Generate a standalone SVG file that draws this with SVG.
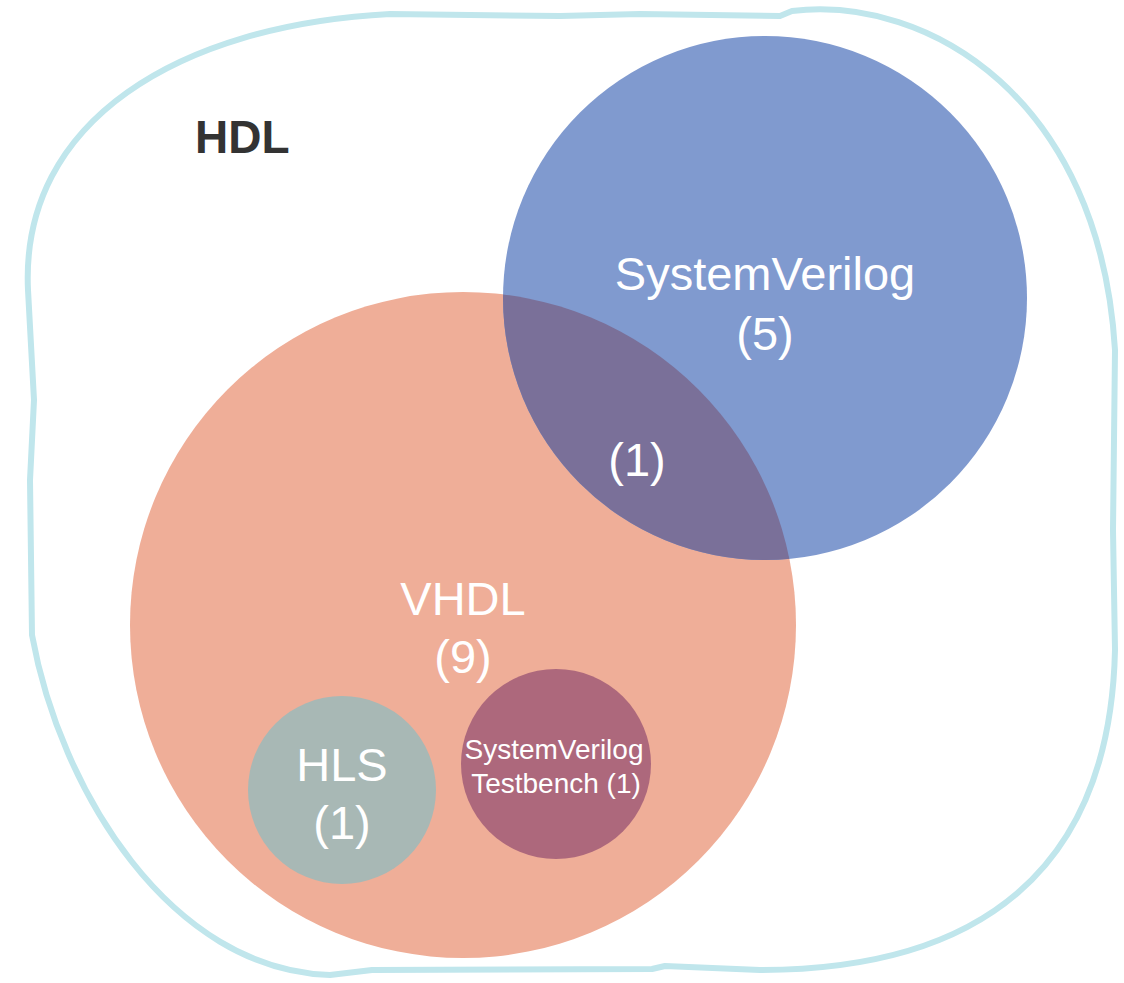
<svg xmlns="http://www.w3.org/2000/svg" width="1124" height="983" viewBox="0 0 1124 983">
  <style>
    .lbl { font-family: "Liberation Sans", Arial, sans-serif; fill: #ffffff; text-anchor: middle; }
    .big { font-size: 47px; }
    .small { font-size: 28px; }
    .title { font-family: "Liberation Sans", Arial, sans-serif; font-weight: bold; font-size: 46px; fill: #333333; }
  </style>
  <defs>
    <clipPath id="clipSV">
      <circle cx="765" cy="298" r="262"/>
    </clipPath>
  </defs>
  <rect width="1124" height="983" fill="#ffffff"/>
  <g id="hdl">
    <path d="M 390,14 L 560,16 L 640,14 L 780,16 L 792,11 C 930,-5 1100,100 1115,350 L 1113,530 L 1115,650 C 1110,870 980,970 760,970 L 665,966 L 652,969 L 372,970 L 330,975 C 170,970 60,790 32,635 L 30,480 L 34,400 L 28,290 C 20,120 180,25 390,14 Z" fill="none" stroke="#c0e6ec" stroke-width="6" stroke-linejoin="round"/>
    <text class="title" x="195" y="153">HDL</text>
  </g>
  <g id="vhdl">
    <circle cx="463" cy="625" r="333" fill="#efae98"/>
  </g>
  <g id="systemverilog">
    <circle cx="765" cy="298" r="262" fill="#809acf"/>
  </g>
  <g id="intersection">
    <circle cx="463" cy="625" r="333" fill="#7a7099" clip-path="url(#clipSV)"/>
    <text class="lbl big" x="637" y="476">(1)</text>
  </g>
  <g id="labels-main">
    <text class="lbl big" x="765" y="290">SystemVerilog</text>
    <text class="lbl big" x="765" y="350">(5)</text>
    <text class="lbl big" x="463" y="615">VHDL</text>
    <text class="lbl big" x="463" y="673">(9)</text>
  </g>
  <g id="hls">
    <circle cx="342" cy="790" r="94" fill="#a8b8b5"/>
    <text class="lbl big" x="342" y="781">HLS</text>
    <text class="lbl big" x="342" y="839">(1)</text>
  </g>
  <g id="sv-testbench">
    <circle cx="556" cy="764" r="95" fill="#ad687c"/>
    <text class="lbl small" x="554" y="759">SystemVerilog</text>
    <text class="lbl small" x="556" y="793">Testbench (1)</text>
  </g>
  <g id="connectors"/>
</svg>
